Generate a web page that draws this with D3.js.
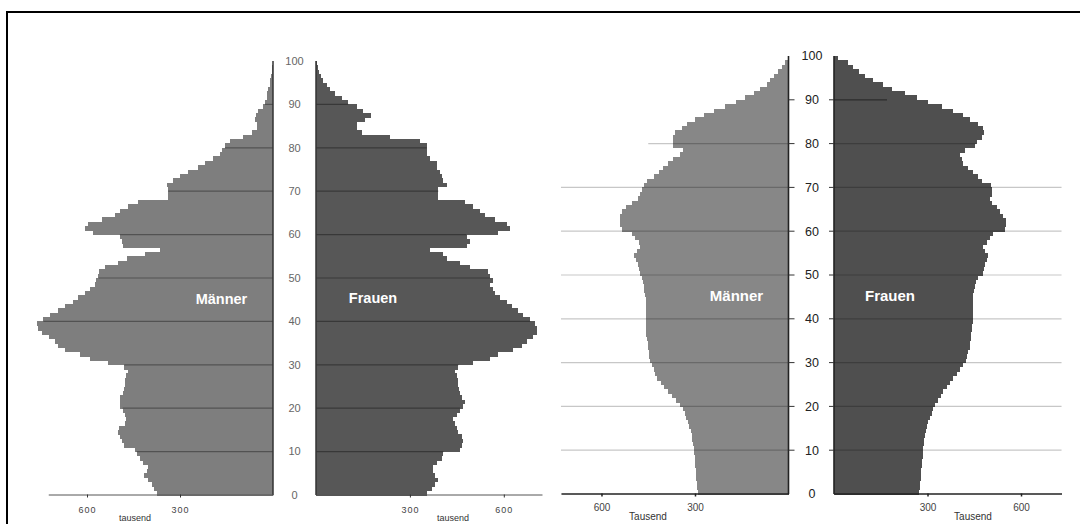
<!DOCTYPE html>
<html><head><meta charset="utf-8">
<script src="https://cdn.jsdelivr.net/npm/d3@7"></script>
<style>html,body{margin:0;padding:0;background:#fff;}svg{display:block;font-family:"Liberation Sans",Arial,sans-serif;}</style>
</head><body>
<svg id="c" width="1080" height="524"></svg>
<script>
// ages 0..99, values in thousands
const ages = d3.range(0, 100);
const leftMen = [375,384,391,402,416,407,402,418,429,440,
445,481,488,494,499,496,477,474,477,485,
494,494,494,485,481,477,477,474,469,480,
531,590,623,671,692,703,724,746,757,760,
741,719,692,671,644,628,606,590,574,570,
563,560,542,499,472,413,365,483,488,494,
580,606,596,553,510,494,467,434,338,338,
338,343,322,300,273,241,219,193,171,166,
155,139,96,69,53,53,58,55,47,31,
26,20,18,15,11,9,5,3,2,1];
const leftWomen = [354,370,380,391,380,375,375,385,402,407,
460,466,471,466,455,450,445,439,450,460,
471,476,466,460,458,455,455,450,445,455,
503,556,582,630,657,673,694,705,706,700,
684,662,646,625,609,588,572,566,556,567,
556,551,492,460,418,407,364,481,492,481,
583,620,609,572,540,524,503,476,391,391,
391,418,405,402,396,386,386,364,354,354,
354,332,236,146,130,130,157,176,151,130,
103,82,61,45,34,23,16,11,5,2];
const rightMen = [290,292,294,296,297,298,299,300,301,303,
304,306,308,310,314,320,324,328,333,340,
347,360,374,386,399,410,422,428,433,438,
444,446,448,450,452,454,456,457,457,457,
457,457,457,457,458,460,462,465,468,470,
476,481,484,489,495,487,478,481,492,503,
535,540,540,540,535,521,503,484,476,470,
463,454,433,417,403,385,369,347,337,369,
369,369,363,342,326,299,272,240,203,170,
141,112,90,69,58,47,34,20,10,3];
const rightWomen = [274,275,277,278,279,280,282,283,284,285,
287,289,290,292,294,298,303,309,314,319,
324,333,342,351,362,372,383,394,404,415,
422,426,431,435,437,439,441,443,444,445,
445,445,445,445,445,446,448,451,456,463,
477,481,484,490,495,484,479,490,500,511,
549,552,552,543,533,522,506,500,506,506,
503,474,463,447,431,415,410,404,420,452,
458,474,482,477,463,436,415,383,345,303,
265,228,185,156,126,99,81,62,46,14];
const ageTicks = [0,10,20,30,40,50,60,70,80,90,100];
const gridAges = [10,20,30,40,50,60,70,80,90];
const valueTicks = [300, 600];
const axisLabelLeft = "tausend";
const axisLabelRight = "Tausend";
const menLabel = "Männer", womenLabel = "Frauen";
// right chart gridlines: extent (thousand) on men side / women side
const rightGridAges = [10,20,30,40,50,60,70,80,90];
const rightGridMen = [730,730,730,730,730,730,730,450,0];
const rightGridWomen = [730,730,730,730,730,730,730,455,170];

const svg = d3.select("#c");
svg.append("rect").attr("width",1080).attr("height",524).attr("fill","#fff");
// frame
svg.append("line").attr("x1",6).attr("x2",1080).attr("y1",12).attr("y2",12).attr("stroke","#000").attr("stroke-width",2);
svg.append("line").attr("x1",7).attr("x2",7).attr("y1",11).attr("y2",524).attr("stroke","#000").attr("stroke-width",2);

function bars(g, data, x, y, color){
  g.append("g").selectAll("rect").data(ages).join("rect")
    .attr("shape-rendering","crispEdges")
    .attr("x", a => Math.min(x(0), x(data[a])))
    .attr("width", a => Math.abs(x(data[a]) - x(0)))
    .attr("y", a => y(a+1))
    .attr("height", a => y(a) - y(a+1) + 0.5)
    .attr("fill", color);
}

// ---------------- LEFT PYRAMID ----------------
{
  const y = d3.scaleLinear([0,100],[495,61]);
  const xm = d3.scaleLinear([0,725],[273,273-725*0.31]);
  const xw = d3.scaleLinear([0,722],[316,316+722*0.313]);
  const g = svg.append("g");
  bars(g, leftMen, xm, y, "#7e7e7e");
  bars(g, leftWomen, xw, y, "#575757");
  // gridlines inside bars only
  g.append("g").selectAll("line").data(gridAges).join("line")
    .attr("x1", xm(0)).attr("x2", a => xm(Math.min(leftMen[a-1], leftMen[a])))
    .attr("y1", a => y(a)).attr("y2", a => y(a))
    .attr("stroke","rgba(0,0,0,0.35)").attr("stroke-width",1.2);
  g.append("g").selectAll("line").data(gridAges).join("line")
    .attr("x1", xw(0)).attr("x2", a => xw(Math.min(leftWomen[a-1], leftWomen[a])))
    .attr("y1", a => y(a)).attr("y2", a => y(a))
    .attr("stroke","rgba(0,0,0,0.35)").attr("stroke-width",1.2);
  // vertical axes
  [xm(0), xw(0)].forEach(xx => g.append("line").attr("x1",xx).attr("x2",xx)
    .attr("y1",y(100)).attr("y2",y(0)).attr("stroke","#333").attr("stroke-width",1.5));
  // age labels
  g.append("g").selectAll("text").data(ageTicks).join("text")
    .attr("x", 294.5).attr("y", a => y(a)).attr("dy","0.35em")
    .attr("text-anchor","middle").attr("font-size",11).attr("fill","#666")
    .text(d => d);
  // x axes
  const axM = d3.axisBottom(xm).tickValues(valueTicks).tickSize(3).tickSizeOuter(0);
  const axW = d3.axisBottom(xw).tickValues(valueTicks).tickSize(3).tickSizeOuter(0);
  [axM, axW].forEach(ax => {
    const a = g.append("g").attr("transform","translate(0,494.5)").call(ax);
    a.select(".domain").attr("stroke","#555");
    a.selectAll(".tick line").attr("stroke","#333");
    a.selectAll("text").attr("font-size",9).attr("fill","#444").attr("letter-spacing","1px")
      .attr("font-family","'Liberation Sans',Arial,sans-serif").attr("dy","1.35em");
  });
  g.append("text").attr("x",135).attr("y",521).attr("text-anchor","middle")
    .attr("font-size",9).attr("fill","#333").text(axisLabelLeft);
  g.append("text").attr("x",453).attr("y",521).attr("text-anchor","middle")
    .attr("font-size",9).attr("fill","#333").text(axisLabelLeft);
  g.append("text").attr("x",221.5).attr("y",299).attr("dy","0.35em").attr("text-anchor","middle")
    .attr("font-size",14.5).attr("font-weight","bold").attr("fill","#fff").text(menLabel);
  g.append("text").attr("x",373).attr("y",298).attr("dy","0.35em").attr("text-anchor","middle")
    .attr("font-size",14.5).attr("font-weight","bold").attr("fill","#fff").text(womenLabel);
}

// ---------------- RIGHT PYRAMID ----------------
{
  const y = d3.scaleLinear([0,100],[494,56]);
  const xm = d3.scaleLinear([0,730],[788.5,788.5-730*0.3117]);
  const xw = d3.scaleLinear([0,730],[834,834+730*0.3117]);
  const g = svg.append("g");
  bars(g, rightMen, xm, y, "#878787");
  bars(g, rightWomen, xw, y, "#4f4f4f");
  // gridlines
  g.append("g").selectAll("line").data(rightGridAges.filter((a,i)=>rightGridMen[i]>0)).join("line")
    .attr("x1", xm(0)).attr("x2", a => xm(rightGridMen[rightGridAges.indexOf(a)]))
    .attr("y1", a => y(a)).attr("y2", a => y(a))
    .attr("stroke","rgba(0,0,0,0.22)").attr("stroke-width",1.2);
  g.append("g").selectAll("line").data(rightGridAges).join("line")
    .attr("x1", xw(0)).attr("x2", a => xw(rightGridWomen[rightGridAges.indexOf(a)]))
    .attr("y1", a => y(a)).attr("y2", a => y(a))
    .attr("stroke", a => a===90 ? "rgba(0,0,0,0.45)" : "rgba(0,0,0,0.22)").attr("stroke-width",1.2);
  // vertical axes
  [xm(0), xw(0)].forEach(xx => g.append("line").attr("x1",xx).attr("x2",xx)
    .attr("y1",y(100)).attr("y2",y(0)).attr("stroke","#222").attr("stroke-width",1.6));
  // age ticks
  g.append("g").selectAll("line").data(ageTicks.slice(1,10)).join("line")
    .attr("x1", xm(0)).attr("x2", xm(0)+6).attr("y1", a=>y(a)).attr("y2", a=>y(a))
    .attr("stroke","#333").attr("stroke-width",1);
  g.append("g").selectAll("line").data(ageTicks.slice(1,10)).join("line")
    .attr("x1", xw(0)-5).attr("x2", xw(0)).attr("y1", a=>y(a)).attr("y2", a=>y(a))
    .attr("stroke","#333").attr("stroke-width",1);
  g.append("g").selectAll("text").data(ageTicks).join("text")
    .attr("x", 812).attr("y", a => y(a)).attr("dy","0.35em")
    .attr("text-anchor","middle").attr("font-size",12.5).attr("fill","#222")
    .text(d => d);
  const axM = d3.axisBottom(xm).tickValues(valueTicks).tickSize(3).tickSizeOuter(0);
  const axW = d3.axisBottom(xw).tickValues(valueTicks).tickSize(3).tickSizeOuter(0);
  [axM, axW].forEach(ax => {
    const a = g.append("g").attr("transform","translate(0,493.5)").call(ax);
    a.select(".domain").attr("stroke","#222").attr("stroke-width",1.5);
    a.selectAll(".tick line").attr("stroke","#222").attr("stroke-width",1.5);
    a.selectAll("text").attr("font-size",10).attr("fill","#444")
      .attr("font-family","'Liberation Sans',Arial,sans-serif").attr("dy","1.15em");
  });
  g.append("text").attr("x",648).attr("y",520).attr("text-anchor","middle")
    .attr("font-size",10).attr("fill","#333").text(axisLabelRight);
  g.append("text").attr("x",973).attr("y",520).attr("text-anchor","middle")
    .attr("font-size",10).attr("fill","#333").text(axisLabelRight);
  g.append("text").attr("x",736.5).attr("y",296).attr("dy","0.35em").attr("text-anchor","middle")
    .attr("font-size",15).attr("font-weight","bold").attr("fill","#fff").text(menLabel);
  g.append("text").attr("x",890).attr("y",296).attr("dy","0.35em").attr("text-anchor","middle")
    .attr("font-size",15).attr("font-weight","bold").attr("fill","#fff").text(womenLabel);
}
</script>
</body></html>
